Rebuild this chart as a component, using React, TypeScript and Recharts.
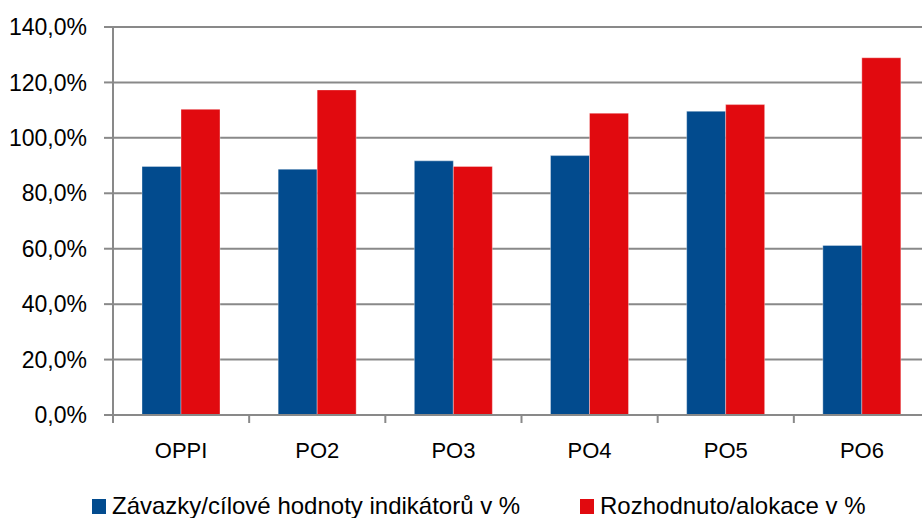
import React from 'react';
import { BarChart, Bar, XAxis, YAxis, CartesianGrid, Legend } from 'recharts';

const categories = ['OPPI', 'PO2', 'PO3', 'PO4', 'PO5', 'PO6'];
const zavazky = [89.7, 88.7, 91.7, 93.6, 109.6, 61.2];
const rozhodnuto = [110.3, 117.3, 89.7, 108.9, 112.0, 128.9];
const yTicks = [0, 20, 40, 60, 80, 100, 120, 140];
const seriesNames = ['Závazky/cílové hodnoty indikátorů v %', 'Rozhodnuto/alokace v %'];

const BLUE = '#024B8E';
const RED = '#E10A0F';
const GRID = '#898989';
const FONT = '"Liberation Sans", Arial, sans-serif';

const data = categories.map((c, i) => ({ name: c, zavazky: zavazky[i], rozhodnuto: rozhodnuto[i] }));

const fmt = (v: number) => v.toFixed(1).replace('.', ',') + '%';

const XTick = (props: any) => {
  const { x, y, payload } = props;
  const off = payload && typeof payload.offset === 'number' && payload.offset > 0 ? payload.offset : 68.1;
  const lx = x - off;
  return (
    <g>
      <line x1={lx} x2={lx} y1={y - 27} y2={y - 19} stroke={GRID} strokeWidth={2} />
      <text x={x} y={y} dy="0.71em" textAnchor="middle" fill="#000" fontSize={22} fontFamily={FONT}>
        {payload.value}
      </text>
    </g>
  );
};

const LegendContent = () => {
  const items = [
    { name: seriesNames[0], color: BLUE, left: 92 },
    { name: seriesNames[1], color: RED, left: 580 },
  ];
  return (
    <div style={{ position: 'relative', height: 30, width: '100%' }}>
      {items.map((it) => (
        <div
          key={it.name}
          style={{
            position: 'absolute',
            left: it.left,
            top: 3,
            height: 30,
            display: 'flex',
            alignItems: 'center',
            whiteSpace: 'nowrap',
          }}
        >
          <span style={{ display: 'inline-block', width: 14, height: 15, background: it.color, marginRight: 6 }} />
          <span style={{ fontFamily: FONT, fontSize: 24, color: '#000', lineHeight: '30px' }}>{it.name}</span>
        </div>
      ))}
    </div>
  );
};

export default function App() {
  return (
    <div style={{ position: 'fixed', left: 0, top: 0, width: 922, height: 518, overflow: 'hidden', background: '#fff' }}>
      <BarChart
        width={930}
        height={518}
        data={data}
        margin={{ top: 27, right: 0, left: 0, bottom: 0 }}
        barGap={0}
      >
        <CartesianGrid vertical={false} stroke={GRID} strokeWidth={2} />
        <XAxis
          dataKey="name"
          height={73}
          axisLine={{ stroke: GRID, strokeWidth: 2 }}
          tickLine={false}
          tickSize={8}
          tickMargin={19}
          tick={<XTick />}
          interval={0}
        />
        <YAxis
          width={113}
          domain={[0, 140]}
          ticks={yTicks}
          tickFormatter={fmt}
          axisLine={{ stroke: GRID, strokeWidth: 2 }}
          tickLine={{ stroke: GRID, strokeWidth: 2 }}
          tickSize={9}
          tickMargin={17}
          tick={{ fill: '#000', fontSize: 23, fontFamily: FONT }}
          interval={0}
        />
        <Legend verticalAlign="bottom" content={<LegendContent />} />
        <Bar dataKey="zavazky" name={seriesNames[0]} fill={BLUE} barSize={39} stroke="rgba(255,255,255,0.35)" strokeWidth={1} isAnimationActive={false} />
        <Bar dataKey="rozhodnuto" name={seriesNames[1]} fill={RED} barSize={39} stroke="rgba(255,255,255,0.35)" strokeWidth={1} isAnimationActive={false} />
      </BarChart>
    </div>
  );
}
